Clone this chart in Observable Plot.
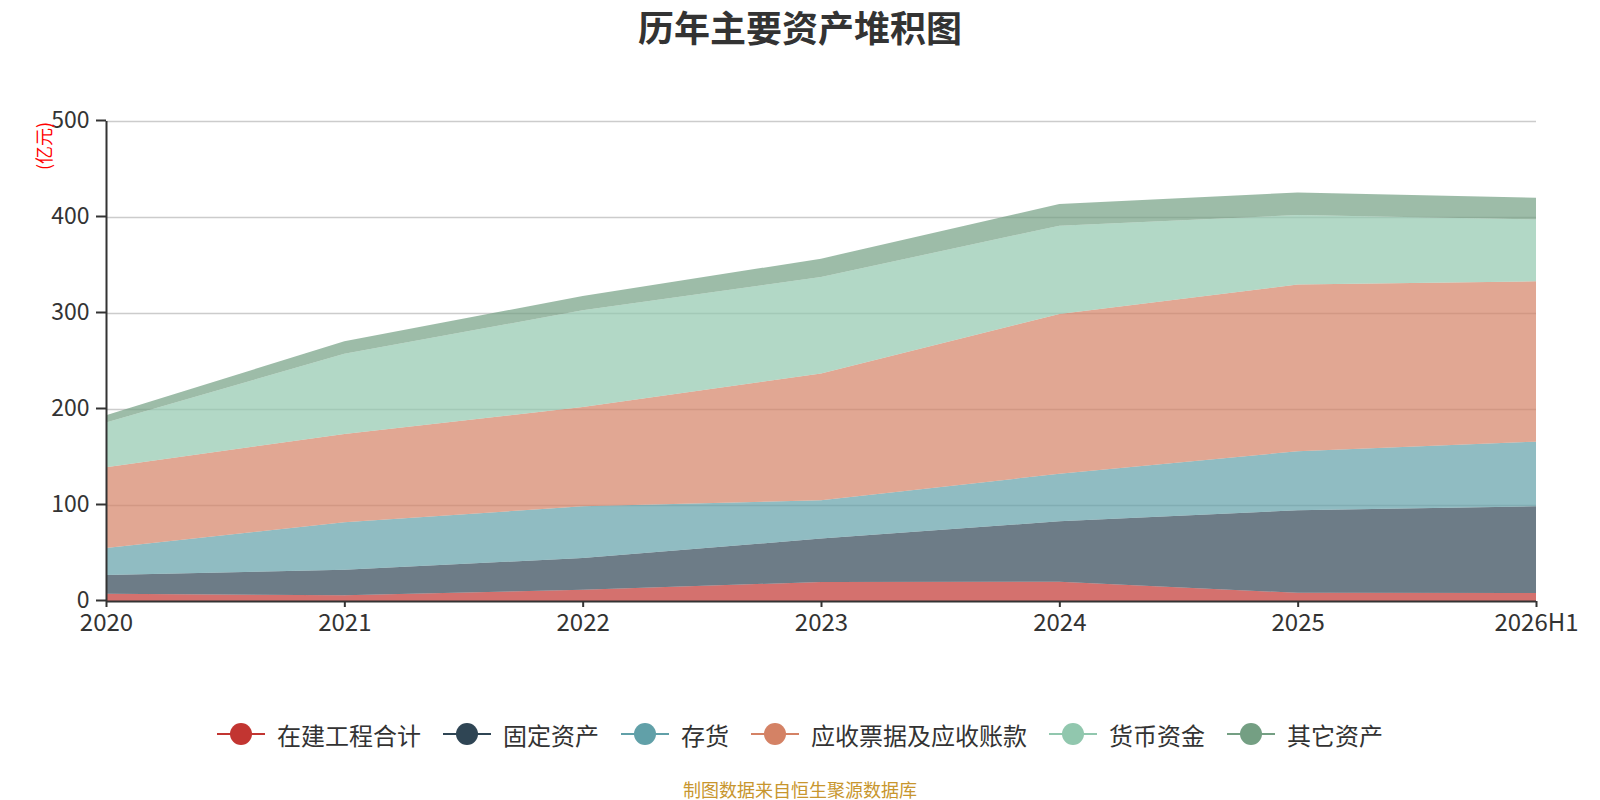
<!DOCTYPE html>
<html>
<head>
<meta charset="utf-8">
<script src="https://cdn.jsdelivr.net/npm/d3@7"></script>
<script src="https://cdn.jsdelivr.net/npm/@observablehq/plot@0.6"></script>
<style>
  html, body { margin: 0; padding: 0; background: #fff; }
  body { width: 1600px; height: 800px; position: relative; overflow: hidden;
         font-family: "Noto Sans CJK SC", "Noto Sans", sans-serif; }
  #title { position: absolute; left: 0; top: 0; width: 1600px; height: 52px; line-height: 52px;
           text-align: center; font-size: 36px; font-weight: bold; color: #333; }
  #chart { position: absolute; left: 0; top: 60px; }
  #unit { position: absolute; left: 43px; top: 146px; transform: translate(-50%, -50%) rotate(-90deg);
          color: #ff0000; font-size: 18px; line-height: 18px; white-space: nowrap; }
  #legend { position: absolute; left: 0; top: 718px; width: 1600px; height: 32px;
            display: flex; justify-content: center; align-items: center; gap: 22px;
            font-size: 24px; color: #333; }
  .item { display: flex; align-items: center; gap: 12px; }
  #caption { position: absolute; left: 0; top: 777px; width: 1600px; text-align: center;
             font-size: 18px; line-height: 24px; color: #c8962e; }
</style>
</head>
<body>
<div id="title">历年主要资产堆积图</div>
<div id="chart"></div>
<div id="unit">(亿元)</div>
<div id="legend"></div>
<div id="caption">制图数据来自恒生聚源数据库</div>
<script>
// ---- data ----
const periods = ["2020", "2021", "2022", "2023", "2024", "2025", "2026H1"];
const seriesNames = ["在建工程合计", "固定资产", "存货", "应收票据及应收账款", "货币资金", "其它资产"];
const seriesColors = ["#c23531", "#2f4554", "#61a0a8", "#d48265", "#91c7ae", "#749f83"];
const constructionInProgress = [7.6, 5.9, 11.8, 19.8, 20.0, 8.5, 8.3];
const fixedAssets = [19.5, 26.7, 33.0, 45.2, 63.0, 86.1, 90.3];
const inventory = [28.1, 49.4, 53.8, 40.0, 49.5, 61.4, 67.4];
const receivables = [84.0, 92.0, 103.4, 132.0, 166.5, 173.7, 167.0];
const cash = [46.8, 83.5, 100.8, 100.5, 92.0, 72.3, 64.5];
const otherAssets = [7.5, 13.0, 14.9, 19.1, 22.5, 23.5, 22.5];
const yTicks = [0, 100, 200, 300, 400, 500];

const seriesValues = [constructionInProgress, fixedAssets, inventory, receivables, cash, otherAssets];
const rows = [];
seriesNames.forEach((name, s) => {
  periods.forEach((p, i) => rows.push({ series: name, i, value: seriesValues[s][i] }));
});

const plot = Plot.plot({
  width: 1600,
  height: 600,
  marginTop: 61,
  marginBottom: 59,
  marginLeft: 106,
  marginRight: 64,
  style: { fontFamily: '"Noto Sans CJK SC", "Noto Sans", sans-serif', background: "transparent" },
  x: { type: "linear", domain: [0, periods.length - 1] },
  y: { domain: [0, 500] },
  color: { domain: seriesNames, range: seriesColors },
  marks: [
    Plot.gridY(yTicks.filter(d => d > 0), { stroke: "#cccccc", strokeOpacity: 1, strokeWidth: 1.3 }),
    Plot.areaY(rows, { x: "i", y: "value", z: "series", fill: "series", order: seriesNames, fillOpacity: 0.7 }),
    Plot.axisY(yTicks, { tickSize: 10, tickPadding: 7, fontSize: 23, color: "#333", stroke: "#333", strokeWidth: 2, label: null,
      dy: -1 }),
    Plot.axisX(d3.range(periods.length), { tickSize: 6, tickPadding: 6, fontSize: 24, color: "#333", stroke: "#333", strokeWidth: 2,
      tickFormat: i => periods[i], label: null }),
    Plot.ruleY([0], { stroke: "#333", strokeWidth: 2 }),
    Plot.ruleX([0], { stroke: "#333", strokeWidth: 2 })
  ]
});
document.getElementById("chart").appendChild(plot);

// ---- legend ----
const legend = document.getElementById("legend");
seriesNames.forEach((name, s) => {
  const item = document.createElement("div");
  item.className = "item";
  item.innerHTML = `<svg width="48" height="24"><line x1="0" x2="48" y1="12" y2="12" stroke="${seriesColors[s]}" stroke-width="2"/><circle cx="24" cy="12" r="11" fill="${seriesColors[s]}"/></svg><span>${name}</span>`;
  legend.appendChild(item);
});
</script>
</body>
</html>
